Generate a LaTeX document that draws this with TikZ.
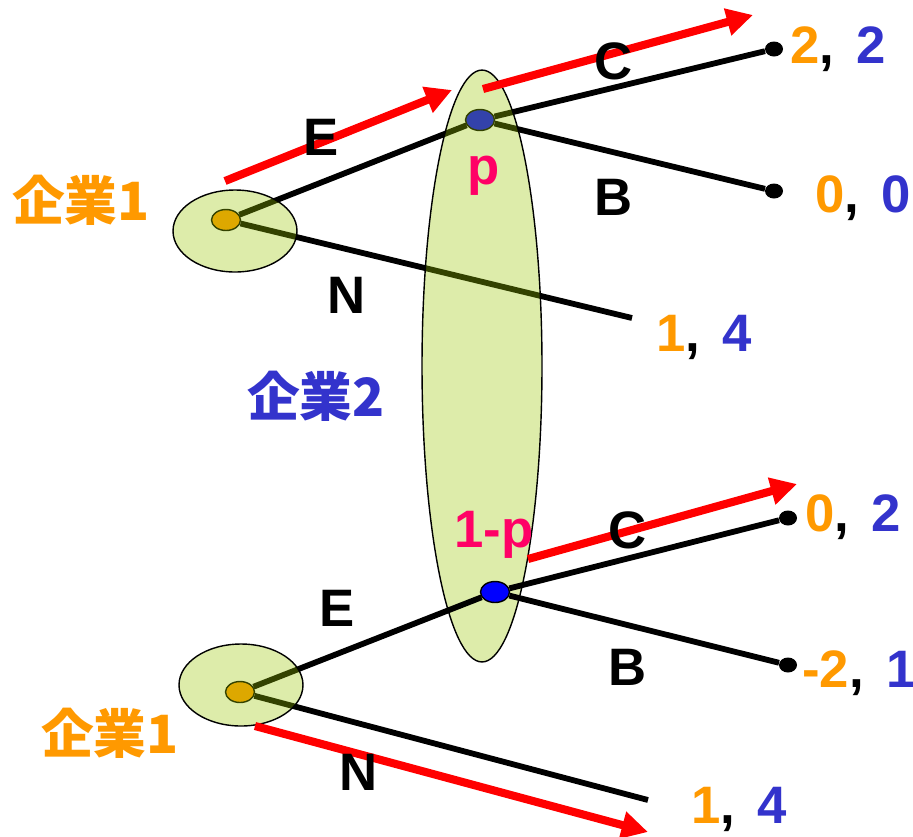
\documentclass[tikz,border=0pt]{standalone}
\usepackage{fontspec}
\setmainfont{Liberation Sans}
\newfontfamily\jpfont{Noto Sans CJK JP Bold}
\usepackage{xcolor}
\usetikzlibrary{shapes.geometric, arrows.meta, positioning, calc}

\definecolor{orng}{HTML}{FF9900}
\definecolor{blu}{HTML}{3333CC}
\definecolor{pink}{HTML}{FF0066}
\definecolor{setgreen}{RGB}{153,198,0}

\pgfdeclarelayer{lines1}
\pgfdeclarelayer{dots1}
\pgfdeclarelayer{sets1}
\pgfdeclarelayer{lines2}
\pgfdeclarelayer{dots2}
\pgfdeclarelayer{sets2}
\pgfsetlayers{lines1,dots1,sets1,lines2,dots2,sets2,main}

\newcommand{\payoff}[2]{\textcolor{orng}{#1},\hspace{0.42em}\textcolor{blu}{#2}}

\begin{document}
\begin{tikzpicture}[
        x=0.02cm, y=-0.02cm,
        txt/.style={font=\bfseries\fontsize{30}{36}\selectfont, inner sep=0},
        pay/.style={txt, anchor=base west},
        infoset/.style={ellipse, draw=black, line width=0.8pt, fill=setgreen, fill opacity=0.333, inner sep=0},
        dec/.style={ellipse, draw=black, line width=0.8pt, minimum width=0.58cm, minimum height=0.42cm, inner sep=0},
        term/.style={ellipse, fill=black, minimum width=0.36cm, minimum height=0.3cm, inner sep=0},
        branch/.style={line width=3.3pt},
        hint/.style={red, line width=4.6pt, -{Triangle[length=15pt, width=15pt]}}
    ]
        \useasboundingbox (0,0) rectangle (913,836);

        % Nós de decisão
        \begin{pgfonlayer}{dots1}
        \node[dec, fill=orng] (r1) at (226,220) {};
        \node[dec, fill=blue] (i1) at (480,120) {};
        \end{pgfonlayer}
        \begin{pgfonlayer}{dots2}
        \node[dec, fill=orng] (r2) at (240,692) {};
        \node[dec, fill=blue] (i2) at (495,592) {};
        \end{pgfonlayer}

        % Nós terminais
        \node[term] (t1) at (774,49) {};
        \node[term] (t2) at (774,191) {};
        \node[term] (t3) at (788,518) {};
        \node[term] (t4) at (788,665) {};
        \coordinate (t5) at (632,318);
        \coordinate (t6) at (648,800);

        % Ramos
        \begin{pgfonlayer}{lines1}
        \draw[branch] (r1) -- (i1);
        \draw[branch] (r1) -- (t5);
        \draw[branch] (i1) -- (t1);
        \draw[branch] (i1) -- (t2);
        \end{pgfonlayer}
        \begin{pgfonlayer}{lines2}
        \draw[branch] (r2) -- (i2);
        \draw[branch] (r2) -- (t6);
        \draw[branch] (i2) -- (t3);
        \draw[branch] (i2) -- (t4);
        \end{pgfonlayer}

        % Conjuntos de informação
        \begin{pgfonlayer}{sets1}
        \node[infoset, minimum width=2.48cm, minimum height=1.64cm] (set1) at (235,231) {};
        \node[infoset, minimum width=2.4cm, minimum height=11.84cm] (set2) at (482,366) {};
        \end{pgfonlayer}
        \begin{pgfonlayer}{sets2}
        \node[infoset, minimum width=2.48cm, minimum height=1.64cm] (set3) at (241,685) {};
        \end{pgfonlayer}

        % Setas vermelhas
        \coordinate (ea0) at (225,181);
        \coordinate (ea1) at (452,90);
        \coordinate (ca0) at (483,89);
        \coordinate (ca1) at (753,15);
        \coordinate (cb0) at (528,559);
        \coordinate (cb1) at (797,484);
        \coordinate (nb0) at (255,726);
        \coordinate (nb1) at (648,832);
        \draw[hint] (ea0) -- (ea1);
        \draw[hint] (ca0) -- (ca1);
        \draw[hint] (cb0) -- (cb1);
        \draw[hint] (nb0) -- (nb1);

        % Rótulos
        \node[txt, text=orng] (f1a) at (81,200) {\jpfont 企業1};
        \node[txt, text=blu] (f2) at (316,396) {\jpfont 企業2};
        \node[txt, text=orng] (f1b) at (110,733) {\jpfont 企業1};
        \node[txt] (e1) at (321,137) {E};
        \node[txt] (n1) at (347,295) {N};
        \node[txt] (c1) at (614,61) {C};
        \node[txt] (b1) at (614,197) {B};
        \node[txt, text=pink] (p1) at (484,176) {p};
        \node[txt] (e2) at (337,608) {E};
        \node[txt] (n2) at (359,772) {N};
        \node[txt] (c2) at (628,530) {C};
        \node[txt] (b2) at (628,667) {B};
        \node[txt, text=pink] (p2) at (494,535) {1-p};

        % Payoffs
        \node[pay] (u1) at (790,63) {\payoff{2}{2}};
        \node[pay] (u2) at (815,212) {\payoff{0}{0}};
        \node[pay] (u3) at (656,351) {\payoff{1}{4}};
        \node[pay] (l1) at (805,531) {\payoff{0}{2}};
        \node[pay] (l2) at (802,687) {\payoff{-2}{1}};
        \node[pay] (l3) at (691,823) {\payoff{1}{4}};

    \end{tikzpicture}
\end{document}
